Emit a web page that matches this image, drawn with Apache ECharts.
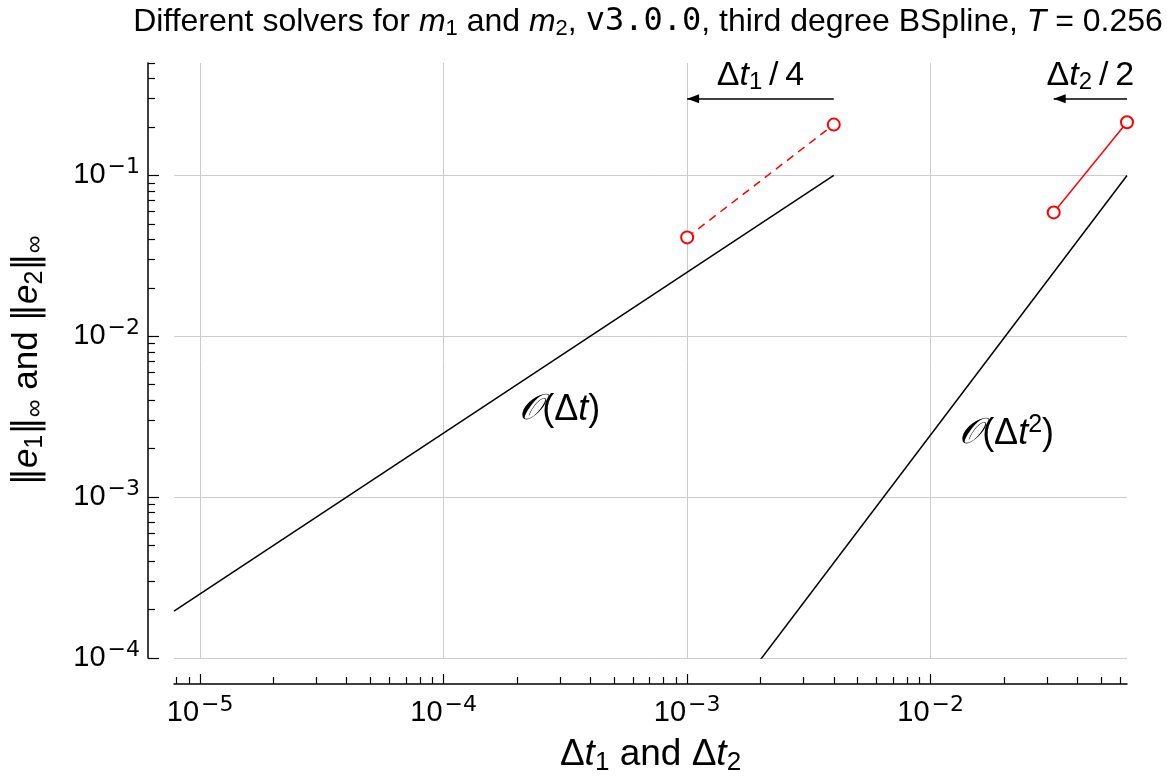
<!DOCTYPE html>
<html><head><meta charset="utf-8">
<script src="https://cdn.jsdelivr.net/npm/echarts@6/dist/echarts.min.js"></script>
<style>html,body{margin:0;padding:0;background:#fff}#c{width:1167px;height:776px}</style>
</head><body><div id="c"></div>
<script>
// ---- data (raw values, log-log plot) ----
const xMin = 7.8125e-6, xMax = 0.064;
const yMin = 1e-4, yMax = 0.5;
const xMajorTicks = [1e-5, 1e-4, 1e-3, 1e-2];
const yMajorTicks = [1e-4, 1e-3, 1e-2, 1e-1];
const xTickExponents = ['−5', '−4', '−3', '−2'];
const yTickExponents = ['−4', '−3', '−2', '−1'];
const minorMultipliers = [2, 3, 4, 5, 6, 7, 8, 9];
const dt1 = [0.001, 0.004];
const err1 = [0.0412, 0.207];
const dt2 = [0.032, 0.064];
const err2 = [0.0589, 0.214];
const order1X = [7.8125e-6, 0.004];
const order1Y = [1.953e-4, 0.1];
const order2X = [0.002, 0.064];
const order2Y = [9.766e-5, 0.1];
const arrow1X = [0.004, 0.001], arrow1Y = 0.3;
const arrow2X = [0.064, 0.032], arrow2Y = 0.3;
const order1LabelPos = [3.0e-4, 3.5e-3];
const order2LabelPos = [0.0205, 2.47e-3];

const L = Math.log10;
const zip = (xs, ys) => xs.map((x, i) => [L(x), L(ys[i])]);
function minorTicks(lo, hi) {
  const out = [];
  for (let e = Math.floor(L(lo)) - 1; e <= Math.ceil(L(hi)); e++) {
    minorMultipliers.forEach(k => { const v = k * Math.pow(10, e); if (v >= lo && v <= hi) out.push(L(v)); });
  }
  return out;
}
const SANS = "'Liberation Sans', Arial, sans-serif";
const DEJA = "'DejaVu Sans', sans-serif";
const tickRich = {
  b: { fontSize: 29, fontFamily: SANS, color: '#000' },
  s: { fontSize: 22, fontFamily: DEJA, color: '#000', padding: [0, 0, 16, 2] }
};
function tickFmt(ticks, exps) {
  return v => {
    const i = ticks.findIndex(t => Math.abs(L(t) - v) < 1e-6);
    return i < 0 ? '' : '{b|10}{s|' + exps[i] + '}';
  };
}
const mathRich = (fs) => ({
  n: { fontSize: fs, fontFamily: SANS, color: '#000' },
  i: { fontSize: fs, fontFamily: SANS, fontStyle: 'italic', color: '#000' },
  bar: { fontSize: fs, fontFamily: DEJA, color: '#000' },
  sub: { fontSize: Math.round(fs * 0.7), fontFamily: SANS, color: '#000', padding: [Math.round(fs * 0.45), 0, 0, 0] },
  sup: { fontSize: Math.round(fs * 0.7), fontFamily: SANS, color: '#000', padding: [0, 0, Math.round(fs * 0.5), 0] },
  cal: { fontSize: fs, fontFamily: "'DejaVu Serif', 'DejaVu Sans', serif", fontStyle: 'italic', color: '#000' },
  mono: { fontSize: fs, fontFamily: "'DejaVu Sans Mono', 'Liberation Mono', monospace", color: '#000' }
});

const axisBase = (min, max) => ({ type: 'value', min: min, max: max, gridIndex: 0 });
const chart = echarts.init(document.getElementById('c'), null, { renderer: 'canvas' });
chart.setOption({
  animation: false,
  backgroundColor: '#fff',
  graphic: [{
    type: 'text', x: 648, y: 4,
    style: {
      text: '{n|Different solvers for }{i|m}{sub|1}{n| and }{i|m}{sub|2}{n|, }{mono|v3.0.0}{n|, third degree BSpline, }{i|T}{n| = 0.256}',
      rich: mathRich(32), align: 'center', textAlign: 'center', verticalAlign: 'top', textVerticalAlign: 'top'
    }
  }],
  grid: { left: 174, right: 40, top: 63, bottom: 118, containLabel: false, outerBoundsMode: 'none' },
  xAxis: [
    Object.assign(axisBase(L(xMin), L(xMax)), {
      position: 'bottom', offset: 26,
      axisLine: { show: true, onZero: false, lineStyle: { color: '#000', width: 1.5 } },
      axisTick: { show: true, inside: true, length: 10, customValues: xMajorTicks.map(L), lineStyle: { color: '#000', width: 1.2 } },
      axisLabel: { show: true, margin: 10, customValues: xMajorTicks.map(L), formatter: tickFmt(xMajorTicks, xTickExponents), rich: tickRich },
      splitLine: { show: true, lineStyle: { color: '#cccccc', width: 1 } },
      name: '{n|Δ}{i|t}{sub|1}{n| and Δ}{i|t}{sub|2}', nameLocation: 'middle', nameGap: 49,
      nameTextStyle: { rich: mathRich(37) }
    }),
    Object.assign(axisBase(L(xMin), L(xMax)), {
      position: 'bottom', offset: 26,
      axisLine: { show: false },
      axisTick: { show: true, inside: true, length: 7, customValues: minorTicks(xMin, xMax), lineStyle: { color: '#000', width: 1.2 } },
      axisLabel: { show: false }, splitLine: { show: false }
    })
  ],
  yAxis: [
    Object.assign(axisBase(L(yMin), L(yMax)), {
      position: 'left', offset: 26,
      axisLine: { show: true, onZero: false, lineStyle: { color: '#000', width: 1.5 } },
      axisTick: { show: true, inside: true, length: 11, customValues: yMajorTicks.map(L), lineStyle: { color: '#000', width: 1.2 } },
      axisLabel: { show: true, margin: 8, customValues: yMajorTicks.map(L), formatter: tickFmt(yMajorTicks, yTickExponents), rich: tickRich },
      splitLine: { show: true, lineStyle: { color: '#cccccc', width: 1 } },
      name: '{bar|‖}{i|e}{sub|1}{bar|‖}{sub|∞}{n| and }{bar|‖}{i|e}{sub|2}{bar|‖}{sub|∞}', nameLocation: 'middle', nameGap: 100,
      nameTextStyle: { rich: mathRich(35) }
    }),
    Object.assign(axisBase(L(yMin), L(yMax)), {
      position: 'left', offset: 26,
      axisLine: { show: false },
      axisTick: { show: true, inside: true, length: 7, customValues: minorTicks(yMin, yMax), lineStyle: { color: '#000', width: 1.2 } },
      axisLabel: { show: false }, splitLine: { show: false }
    })
  ],
  series: [
    {
      name: 'O(dt)', type: 'line', xAxisIndex: 0, yAxisIndex: 0, data: zip(order1X, order1Y),
      symbol: 'none', lineStyle: { color: '#000', width: 1.5 }, itemStyle: { color: '#000' }, silent: true,
      markPoint: {
        silent: true, symbol: 'rect', symbolSize: 1, itemStyle: { color: 'rgba(0,0,0,0)' },
        label: { show: true, position: 'inside', formatter: '{cal|𝒪}{n|(Δ}{i|t}{n|)}', rich: mathRich(36) },
        data: [{ coord: [L(order1LabelPos[0]), L(order1LabelPos[1])] }]
      }
    },
    {
      name: 'O(dt^2)', type: 'line', xAxisIndex: 0, yAxisIndex: 0, data: zip(order2X, order2Y),
      symbol: 'none', lineStyle: { color: '#000', width: 1.5 }, itemStyle: { color: '#000' }, silent: true,
      markPoint: {
        silent: true, symbol: 'rect', symbolSize: 1, itemStyle: { color: 'rgba(0,0,0,0)' },
        label: { show: true, position: 'inside', formatter: '{cal|𝒪}{n|(Δ}{i|t}{sup|2}{n|)}', rich: mathRich(36) },
        data: [{ coord: [L(order2LabelPos[0]), L(order2LabelPos[1])] }]
      }
    },
    {
      name: 'm1', type: 'line', xAxisIndex: 0, yAxisIndex: 0, data: zip(dt1, err1),
      symbol: 'emptyCircle', symbolSize: 12, showSymbol: true,
      lineStyle: { color: '#ff0000', width: 1.5, type: [8, 6] },
      itemStyle: { color: '#ff0000', borderColor: '#ff0000', borderWidth: 1.5 }, silent: true,
      markLine: {
        silent: true, symbol: ['none', 'triangle'], symbolSize: [9, 12], symbolOffset: [[0, 0], [0, 6]],
        lineStyle: { color: '#000', type: 'solid', width: 1.5 },
        label: { show: true, position: 'middle', distance: 4, formatter: '{n|Δ}{i|t}{sub|1}{n|\u2009/\u20094}', rich: mathRich(34) },
        data: [[{ coord: [L(arrow1X[0]), L(arrow1Y)] }, { coord: [L(arrow1X[1]), L(arrow1Y)] }]]
      }
    },
    {
      name: 'm2', type: 'line', xAxisIndex: 0, yAxisIndex: 0, data: zip(dt2, err2),
      symbol: 'emptyCircle', symbolSize: 12, showSymbol: true,
      lineStyle: { color: '#ff0000', width: 1.5 },
      itemStyle: { color: '#ff0000', borderColor: '#ff0000', borderWidth: 1.5 }, silent: true,
      markLine: {
        silent: true, symbol: ['none', 'triangle'], symbolSize: [9, 12], symbolOffset: [[0, 0], [0, 6]],
        lineStyle: { color: '#000', type: 'solid', width: 1.5 },
        label: { show: true, position: 'middle', distance: 4, formatter: '{n|Δ}{i|t}{sub|2}{n|\u2009/\u20092}', rich: mathRich(34) },
        data: [[{ coord: [L(arrow2X[0]), L(arrow2Y)] }, { coord: [L(arrow2X[1]), L(arrow2Y)] }]]
      }
    }
  ]
});
</script>
</body></html>
